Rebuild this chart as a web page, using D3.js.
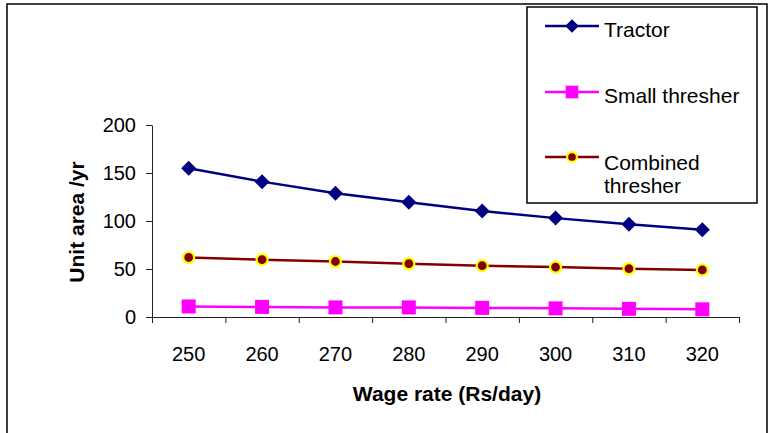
<!DOCTYPE html>
<html>
<head>
<meta charset="utf-8">
<script src="https://cdn.jsdelivr.net/npm/d3@7"></script>
<style>
  html, body { margin: 0; padding: 0; background: #fff; }
  svg { display: block; font-family: "Liberation Sans", Arial, sans-serif; }
</style>
</head>
<body>
<svg id="chart" width="775" height="433"></svg>
<script>
const categories = ["250", "260", "270", "280", "290", "300", "310", "320"];
const tractor = [155, 141, 129, 119.5, 110.5, 103, 96.5, 91];
const smallThresher = [11, 10.5, 10, 10, 9.5, 9, 8.5, 8];
const combinedThresher = [62, 59.7, 57.8, 55.5, 53.5, 52, 50.3, 49];
const yTicks = [0, 50, 100, 150, 200];
const seriesNames = ["Tractor", "Small thresher", "Combined thresher"];

(function () {
const svg = d3.select("#chart");

// outer border
svg.append("path")
  .attr("d", "M7,434 L7,4 L767,4 L767,434")
  .attr("fill", "none").attr("stroke", "#000").attr("stroke-width", 1.5);

const pLeft = 152, pRight = 739, pTop = 125, pBottom = 317;
const x = d3.scaleBand().domain(categories).range([pLeft, pRight]).padding(0);
const xEdge = d3.scaleLinear().domain([0, categories.length]).range([pLeft, pRight]);
const y = d3.scaleLinear().domain([0, 200]).range([pBottom, pTop]);

// x axis: tick marks at category boundaries
const gx = svg.append("g").attr("transform", `translate(0,${pBottom})`)
  .call(d3.axisBottom(xEdge).ticks(categories.length).tickFormat("").tickSize(6).tickSizeOuter(0));
gx.selectAll("path, line").attr("stroke", "#222").attr("stroke-width", 1);

// x labels
const gxl = svg.append("g").attr("transform", `translate(0,${pBottom})`)
  .call(d3.axisBottom(x).tickSize(0).tickPadding(30));
gxl.select(".domain").remove();
gxl.selectAll("text").attr("font-size", 20).attr("font-family", "Liberation Sans, Arial, sans-serif").attr("fill", "#000");

// y axis
const gy = svg.append("g").attr("transform", `translate(${pLeft},0)`)
  .call(d3.axisLeft(y).tickValues(yTicks).tickSize(6).tickSizeOuter(0).tickPadding(10));
gy.selectAll("path, line").attr("stroke", "#222").attr("stroke-width", 1);
gy.selectAll("text").attr("font-size", 20).attr("font-family", "Liberation Sans, Arial, sans-serif").attr("fill", "#000");

// axis titles
svg.append("text").attr("x", 447).attr("y", 401).attr("text-anchor", "middle")
  .attr("font-size", 21).attr("font-weight", "bold").text("Wage rate (Rs/day)");
svg.append("text").attr("transform", "translate(84,222) rotate(-90)").attr("text-anchor", "middle")
  .attr("font-size", 21).attr("font-weight", "bold").text("Unit area /yr");

const cx = d => x(d) + x.bandwidth() / 2;

const styles = [
  { color: "#000080", marker: "diamond" },
  { color: "#FF00FF", marker: "square" },
  { color: "#800000", marker: "circle" }
];
const data = [tractor, smallThresher, combinedThresher];

function drawMarker(g, type, px, py, scale) {
  const s = scale || 1;
  if (type === "diamond") {
    const r = 7.5 * s;
    g.append("path").attr("d", `M${px},${py - r} L${px + r},${py} L${px},${py + r} L${px - r},${py} Z`)
      .attr("fill", "#000080");
  } else if (type === "square") {
    const h = 7 * s;
    g.append("rect").attr("x", px - h).attr("y", py - h).attr("width", 2 * h).attr("height", 2 * h)
      .attr("fill", "#FF00FF");
  } else {
    g.append("circle").attr("cx", px).attr("cy", py).attr("r", 5.5 * s)
      .attr("fill", "#800000").attr("stroke", "#FFFF00").attr("stroke-width", 2.2);
  }
}

const line = d3.line().x((d, i) => cx(categories[i])).y(d => y(d));
data.forEach((vals, k) => {
  const g = svg.append("g");
  g.append("path").datum(vals).attr("d", line).attr("fill", "none")
    .attr("stroke", styles[k].color).attr("stroke-width", 2.5);
  vals.forEach((v, i) => drawMarker(g, styles[k].marker, cx(categories[i]), y(v)));
});

// legend
const lg = svg.append("g");
lg.append("rect").attr("x", 527).attr("y", 7).attr("width", 230).attr("height", 196)
  .attr("fill", "#fff").attr("stroke", "#000").attr("stroke-width", 1.5);
const legendY = [26, 92, 157];
seriesNames.forEach((name, k) => {
  const ly = legendY[k];
  lg.append("line").attr("x1", 545).attr("x2", 599).attr("y1", ly).attr("y2", ly)
    .attr("stroke", styles[k].color).attr("stroke-width", 2.5);
  drawMarker(lg, styles[k].marker, 572, ly, 0.9);
  if (name === "Combined thresher") {
    const t = lg.append("text").attr("x", 604).attr("y", ly + 13).attr("font-size", 21);
    t.append("tspan").attr("x", 604).text("Combined");
    t.append("tspan").attr("x", 604).attr("dy", 23).text("thresher");
  } else {
    lg.append("text").attr("x", 604).attr("y", ly + 11).attr("font-size", 21).text(name);
  }
});
})();
</script>
</body>
</html>
